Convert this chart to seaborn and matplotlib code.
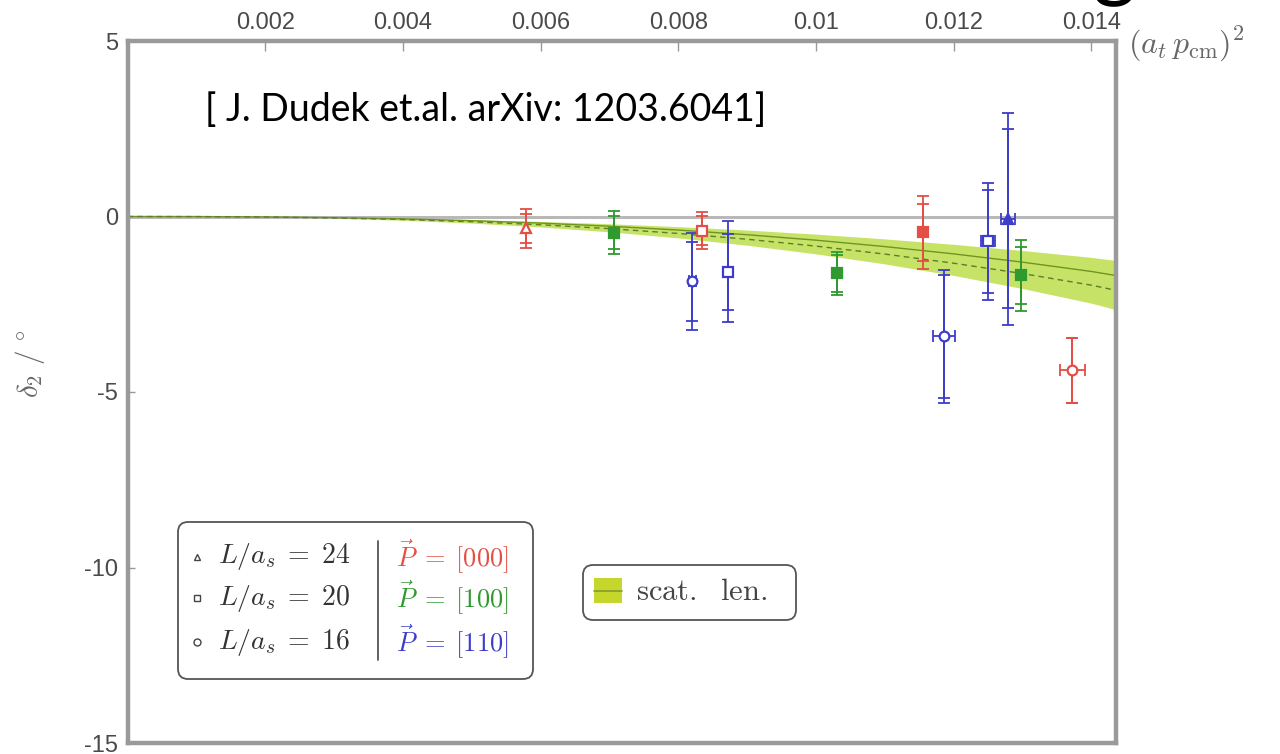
import numpy as np
import pandas as pd
import seaborn as sns
import matplotlib.pyplot as plt
from matplotlib.patches import FancyBboxPatch, Rectangle
from matplotlib.lines import Line2D
from matplotlib.transforms import IdentityTransform

sns.set_theme(style="white")
plt.rcParams["font.family"] = ["Liberation Sans", "DejaVu Sans"]
plt.rcParams["mathtext.fontset"] = "cm"

# ---- phase-shift points, grouped by frame momentum ----
red_x = [0.00579, 0.00834, 0.01155, 0.01372]
red_y = [-0.34, -0.40, -0.45, -4.38]
red_tot = [0.55, 0.54, 1.04, 0.92]
red_stat = [0.42, 0.42, 0.82, 0.92]
red_xerr = [0.0, 0.0, 0.0, 0.00018]
red_L = [24, 20, 20, 16]

green_x = [0.00706, 0.01030, 0.01298]
green_y = [-0.46, -1.62, -1.68]
green_tot = [0.61, 0.62, 1.01]
green_stat = [0.47, 0.52, 0.80]
green_xerr = [0.0, 0.0, 0.0]
green_L = [20, 20, 20]

blue_x = [0.00820, 0.00872, 0.01186, 0.01250, 0.01279]
blue_y = [-1.85, -1.57, -3.41, -0.71, -0.06]
blue_tot = [1.39, 1.43, 1.90, 1.66, 3.02]
blue_stat = [1.12, 1.08, 1.75, 1.46, 2.56]
blue_xerr = [0.00005, 0.0, 0.00016, 0.0001, 0.0001]
blue_L = [16, 20, 16, 20, 24]

frames = ["[000]", "[100]", "[110]"]

# ---- scattering-length band ----
band_x = [0, 0.001, 0.002, 0.003, 0.004, 0.005, 0.006, 0.007, 0.008,
          0.009, 0.010, 0.011, 0.012, 0.013, 0.014, 0.01435]
band_hi = [0, -0.002, -0.009, -0.025, -0.051, -0.089, -0.14, -0.206, -0.288,
           -0.386, -0.502, -0.638, -0.793, -0.968, -1.165, -1.25]
band_mid = [0, -0.002, -0.012, -0.033, -0.068, -0.119, -0.188, -0.277, -0.386,
            -0.519, -0.675, -0.857, -1.065, -1.301, -1.566, -1.68]
band_dash = [0, -0.003, -0.015, -0.042, -0.085, -0.149, -0.235, -0.346, -0.483,
             -0.648, -0.844, -1.071, -1.331, -1.626, -1.957, -2.1]
band_lo = [0, -0.003, -0.019, -0.052, -0.108, -0.188, -0.297, -0.437, -0.61,
           -0.818, -1.065, -1.352, -1.68, -2.052, -2.47, -2.65]

x_ticks = [0.002, 0.004, 0.006, 0.008, 0.010, 0.012, 0.014]
x_ticklabels = ["0.002", "0.004", "0.006", "0.008", "0.01", "0.012", "0.014"]
y_ticks = [5, 0, -5, -10, -15]
y_ticklabels = ["5", "0", "-5", "-10", "-15"]

# style tables
frame_colors = {"[000]": "#e44e44", "[100]": "#2f9a2f", "[110]": "#3d3dcc"}
volume_markers = {24: "^", 20: "s", 16: "o"}
solid_markers = [False, False, True, False,   # [000]
                 True, True, True,            # [100]
                 False, False, False, False, True]  # [110]

points = pd.concat([
    pd.DataFrame(dict(x=red_x, y=red_y, tot=red_tot, stat=red_stat, xerr=red_xerr, L=red_L, P=frames[0])),
    pd.DataFrame(dict(x=green_x, y=green_y, tot=green_tot, stat=green_stat, xerr=green_xerr, L=green_L, P=frames[1])),
    pd.DataFrame(dict(x=blue_x, y=blue_y, tot=blue_tot, stat=blue_stat, xerr=blue_xerr, L=blue_L, P=frames[2])),
], ignore_index=True)
points["solid"] = solid_markers

band = pd.DataFrame(dict(x=band_x, hi=band_hi, mid=band_mid, dash=band_dash, lo=band_lo))

W, H = 1280, 754
fig = plt.figure(figsize=(W / 100, H / 100), dpi=100)
ax = fig.add_axes([127.6 / W, 1 - 743 / H, (1115.5 - 127.6) / W, (743 - 41) / H])

# band
ax.fill_between(band["x"], band["lo"], band["hi"], color="#bcdf4e", alpha=0.85, lw=0, zorder=1)
sns.lineplot(data=band, x="x", y="mid", ax=ax, color="#6f9520", lw=1.0, zorder=2)
sns.lineplot(data=band, x="x", y="dash", ax=ax, color="#5d7d2a", lw=1.0, zorder=2,
             linestyle=(0, (4, 3)))
ax.axhline(0, color="#b8b8b8", lw=2.2, zorder=1.5)

# points with statistical and total error bars
for _, r in points.iterrows():
    c = frame_colors[r["P"]]
    ax.errorbar(r["x"], r["y"], yerr=r["tot"], fmt="none", ecolor=c, elinewidth=1.3,
                capsize=4.5, capthick=1.3, zorder=3)
    ax.errorbar(r["x"], r["y"], yerr=r["stat"], xerr=(r["xerr"] if r["xerr"] > 0 else None),
                fmt="none", ecolor=c, elinewidth=1.3, capsize=4.5, capthick=1.3, zorder=3)
    ax.plot(r["x"], r["y"], marker=volume_markers[r["L"]], ms=7, mew=1.6, mec=c,
            mfc=(c if r["solid"] else "white"), ls="none", zorder=4)

ax.set_xlim(0, 0.01435)
ax.set_ylim(-15, 5)
ax.xaxis.tick_top()
ax.set_xticks(x_ticks)
ax.set_xticklabels(x_ticklabels)
ax.set_yticks(y_ticks)
ax.set_yticklabels(y_ticklabels)
ax.tick_params(axis="x", direction="in", length=7, width=1, color="#999999", pad=5,
               labelsize=17, labelcolor="#4a4a4a", top=True, bottom=False)
ax.tick_params(axis="y", direction="in", length=5, width=1, color="#999999", pad=7,
               labelsize=17, labelcolor="#4a4a4a", left=True)
for s in ax.spines.values():
    s.set_color("#9a9a9a")
    s.set_linewidth(3.2)
ax.set_xlabel("")
ax.set_ylabel(r"$\delta_2\ /\ ^{\circ}$", fontsize=21, color="#666666")
ax.yaxis.set_label_coords(-0.082, 0.54)

# axis variable on the right of the top ticks
fig.text(1128 / W, 1 - 44 / H, r"$(a_t\,p_{\mathrm{cm}})^2$", fontsize=23, color="#666666",
         va="center", ha="left")

# citation
fig.text(205 / W, 1 - 121 / H, "[ J. Dudek et.al. arXiv: 1203.6041]", family="Lato",
         fontsize=27, color="black", va="baseline")

# partly visible title letter
fig.text(1114 / W, 1 + 10 / H, "g", family="Lato", fontsize=60, color="black",
         ha="center", va="baseline")

# ---- legend boxes (pixel coordinates) ----
T = IdentityTransform()


def py(y):
    return H - y


fig.add_artist(FancyBboxPatch((178, py(679)), 355, 157, boxstyle="round,pad=0,rounding_size=10",
                              transform=T, fc="white", ec="#555555", lw=1.3))
rows = [557, 598, 642]
volumes = [24, 20, 16]
for yy, L, mk in zip(rows, volumes, ["^", "s", "o"]):
    fig.add_artist(Line2D([197], [py(yy)], transform=T, marker=mk, ms=5, mfc="white",
                          mec="#444444", mew=1.0, ls="none"))
    fig.text(218 / W, 1 - yy / H, r"$L/a_s\;=\;%d$" % L, fontsize=20, color="#333333",
             va="center")
for yy, P in zip(rows, frames):
    fig.text(396 / W, 1 - yy / H, r"$\vec{P}\;=\;%s$" % P, fontsize=19,
             color=frame_colors[P], va="center")
fig.add_artist(Line2D([378, 378], [py(541), py(660)], transform=T, color="#555555", lw=1.3))

fig.add_artist(FancyBboxPatch((583, py(620)), 213, 55, boxstyle="round,pad=0,rounding_size=10",
                              transform=T, fc="white", ec="#555555", lw=1.3))
fig.add_artist(Rectangle((594, py(603)), 28, 25, transform=T, fc="#c5d62c", ec="none"))
fig.add_artist(Line2D([594, 622], [py(591), py(591)], transform=T, color="#8a9a2a", lw=1.2))
fig.text(636 / W, 1 - 592 / H, r"$\mathrm{scat.\ \ len.}$", fontsize=22, color="#444444",
         va="center")

fig.savefig("out.png", dpi=100)
